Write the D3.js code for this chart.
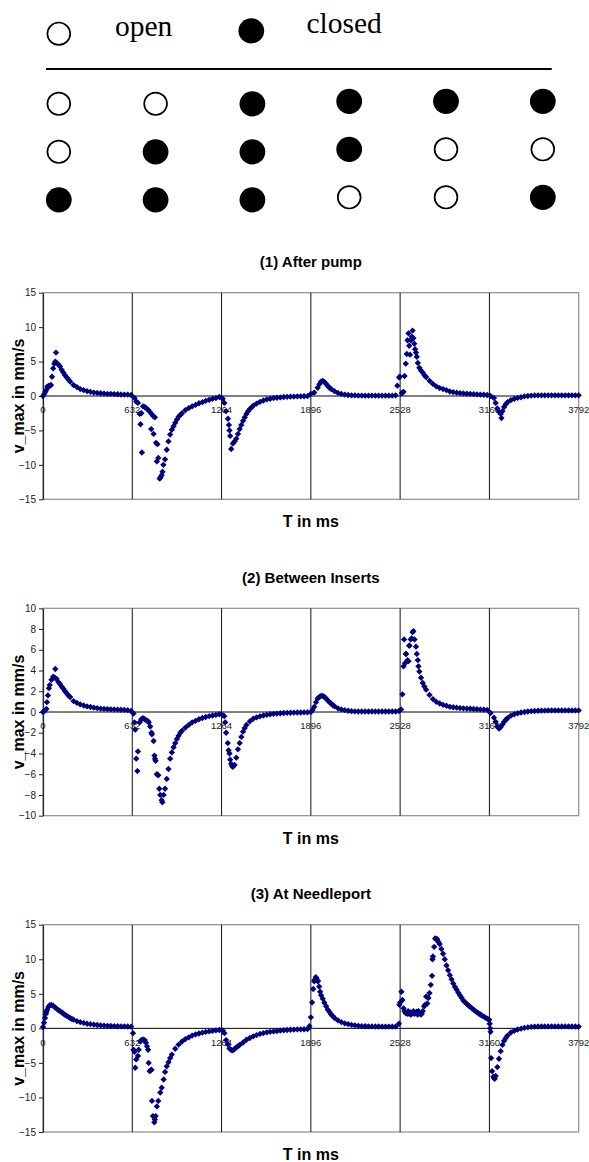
<!DOCTYPE html>
<html><head><meta charset="utf-8">
<script src="https://cdn.jsdelivr.net/npm/d3@7"></script>
<style>body{margin:0;background:#fff}svg{display:block}</style>
</head><body>
<script>
// ---------------- DATA ----------------
// valve legend
const legendItems = [{label:"open", closed:0}, {label:"closed", closed:1}];
// valve states, rows x columns (1 = closed, 0 = open)
const valveRow1 = [0,0,1,1,1,1];
const valveRow2 = [0,1,1,1,0,0];
const valveRow3 = [1,1,1,0,0,1];

const xTicks = [0,632,1264,1896,2528,3160,3792];
const yTicksA = [-15,-10,-5,0,5,10,15];
const yTicksB = [-10,-8,-6,-4,-2,0,2,4,6,8,10];
const chartTitles = ["(1) After pump","(2) Between Inserts","(3) At Needleport"];
const xTitle = "T in ms";
const yTitle = "v_max in mm/s";

// sampling times in ms
const sampleTimes = [
0,24,48,72,96,120,144,168,192,216,240,264,288,312,336,360,384,408,432,456,480,504,528,552,576,600,624,
648,672,696,720,744,768,792,816,840,864,888,912,936,960,984,1008,1032,1056,1080,1104,1128,1152,1176,1200,1224,1248,
1272,1296,1320,1344,1368,1392,1416,1440,1464,1488,1512,1536,1560,1584,1608,1632,1656,1680,1704,1728,1752,1776,1800,1824,1848,1872,
1896,1920,1944,1968,1992,2016,2040,2064,2088,2112,2136,2160,2184,2208,2232,2256,2280,2304,2328,2352,2376,2400,2424,2448,2472,2496,2520,
2544,2568,2592,2616,2640,2664,2688,2712,2736,2760,2784,2808,2832,2856,2880,2904,2928,2952,2976,3000,3024,3048,3072,3096,3120,3144,
3168,3192,3216,3240,3264,3288,3312,3336,3360,3384,3408,3432,3456,3480,3504,3528,3552,3576,3600,3624,3648,3672,3696,3720,3744,3768,3792
];

// (1) After pump
const afterPumpV = [
0.0,0.9,1.45,4.0,4.8,4.3,3.4,2.7,2.1,1.6,1.3,1.0,0.85,0.7,0.6,0.5,0.45,0.4,0.35,0.3,0.3,0.28,0.25,0.22,0.2,0.2,0.15,
-0.3,-1.0,-2.5,-1.6,-2.0,-2.6,-3.1,-9.0,-11.5,-9.2,-6.6,-4.9,-3.9,-3.0,-2.5,-2.05,-1.75,-1.5,-1.3,-1.05,-0.9,-0.7,-0.55,-0.4,-0.3,-0.15,
-0.4,-2.2,-5.0,-6.9,-6.2,-4.8,-3.6,-2.6,-1.9,-1.4,-1.1,-0.85,-0.65,-0.5,-0.4,-0.3,-0.25,-0.2,-0.15,-0.12,-0.1,-0.08,-0.06,-0.05,-0.04,-0.03,
0.3,0.5,1.2,2.1,2.05,1.45,1.0,0.7,0.45,0.3,0.2,0.15,0.1,0.08,0.06,0.05,0.05,0.05,0.05,0.05,0.05,0.05,0.05,0.05,0.05,0.1,2.7,
0.5,4.7,7.3,9.5,6.3,4.1,3.4,2.75,2.2,1.75,1.4,1.15,1.0,0.85,0.65,0.55,0.48,0.43,0.38,0.34,0.3,0.27,0.24,0.21,0.18,0.15,
0.0,-0.3,-1.8,-2.6,-1.6,-0.9,-0.6,-0.4,-0.28,-0.18,-0.05,0.0,0.05,0.08,0.1,0.1,0.1,0.1,0.1,0.1,0.1,0.1,0.1,0.1,0.1,0.1,0.1
];
const afterPumpExtra = [
[9,0.3],[17,0.6],[30,1.35],[40,1.45],[56,1.6],[64,2.8],[80,4.7],[87,5.0],[92,6.3],[108,4.6],[132,3.8],[156,3.0],[180,2.4],
[660,-0.8],[684,-2.6],[690,-4.1],[700,-8.2],[708,-1.5],[732,-1.8],[756,-2.3],[766,-4.8],[780,-2.9],[783,-5.5],[800,-6.8],[806,-9.5],[810,-7.0],[826,-12.0],[832,-11.8],[846,-11.0],[852,-10.0],[876,-7.8],[900,-5.6],[924,-4.4],[948,-3.4],[972,-2.75],
[1284,-1.0],[1309,-3.3],[1316,-4.2],[1325,-5.8],[1332,-7.7],[1356,-6.6],[1380,-5.5],[1404,-4.2],[1428,-3.1],[1452,-2.2],[1476,-1.65],
[1956,1.7],[1980,2.2],[2004,1.75],[2028,1.2],[2508,1.5],[2526,2.8],
[2540,0.4],[2552,0.6],[2559,2.9],[2575,6.1],[2580,8.1],[2587,9.1],[2598,6.0],[2603,8.1],[2611,8.6],[2622,8.4],[2628,7.6],[2634,6.8],[2646,5.7],[2653,4.8],[2676,3.7],[2700,3.0],
[3204,-1.0],[3228,-2.3],[3245,-3.2],[3252,-2.2],[3276,-1.2]
];

// (2) Between Inserts
const betweenInsertsV = [
0.0,0.3,2.6,3.4,3.2,2.7,2.25,1.8,1.45,1.05,0.88,0.73,0.63,0.54,0.48,0.42,0.37,0.32,0.3,0.28,0.26,0.25,0.23,0.22,0.2,0.18,0.1,
-1.0,-3.8,-0.7,-0.7,-0.9,-2.0,-4.5,-6.1,-8.5,-7.4,-5.5,-3.9,-3.0,-2.3,-1.8,-1.5,-1.25,-1.0,-0.85,-0.7,-0.58,-0.48,-0.4,-0.34,-0.28,-0.22,
-0.3,-2.0,-4.0,-5.3,-4.4,-3.0,-1.9,-1.25,-0.9,-0.65,-0.52,-0.42,-0.34,-0.27,-0.22,-0.18,-0.15,-0.12,-0.1,-0.08,-0.07,-0.06,-0.05,-0.05,-0.04,-0.03,
0.0,0.5,1.3,1.55,1.45,1.1,0.8,0.55,0.35,0.25,0.18,0.12,0.08,0.06,0.05,0.05,0.05,0.05,0.05,0.05,0.05,0.05,0.05,0.05,0.05,0.05,0.1,
1.7,5.6,6.4,7.7,6.3,3.9,2.8,2.15,1.65,1.25,0.98,0.82,0.69,0.6,0.5,0.46,0.42,0.38,0.35,0.33,0.31,0.29,0.27,0.25,0.23,0.2,
-0.1,-0.55,-1.4,-1.45,-0.95,-0.6,-0.35,-0.22,-0.12,-0.05,0.0,0.05,0.08,0.1,0.12,0.13,0.14,0.15,0.15,0.15,0.15,0.15,0.15,0.15,0.15,0.15,0.15
];
const betweenInsertsExtra = [
[10,0.1],[28,0.95],[35,1.6],[42,2.3],[60,3.1],[84,3.3],[87,4.15],[108,2.9],[132,2.45],[156,2.0],[180,1.6],
[641,-0.15],[653,-1.7],[660,-4.5],[668,-5.7],[684,-1.0],[708,-0.6],[732,-0.8],[748,-1.0],[759,-1.4],[771,-2.15],[783,-2.8],[789,-4.2],[797,-4.7],[806,-6.0],[823,-7.4],[830,-8.0],[845,-8.7],[854,-8.0],[876,-6.45],[900,-4.5],[924,-3.4],[948,-2.6],[972,-2.0],
[1283,-0.4],[1290,-1.0],[1308,-3.0],[1314,-3.7],[1325,-4.6],[1332,-5.0],[1338,-5.2],[1356,-5.1],[1380,-3.6],[1404,-2.4],[1428,-1.55],
[1908,0.2],[1932,0.95],[1956,1.45],[1980,1.55],[2004,1.3],[2028,0.95],[2052,0.65],
[2535,0.25],[2552,4.4],[2556,7.0],[2563,4.7],[2570,5.6],[2580,5.0],[2587,4.9],[2594,6.4],[2603,7.0],[2610,7.1],[2622,7.8],[2630,7.0],[2646,5.6],[2653,5.0],[2658,4.4],[2676,3.3],[2700,2.45],
[3204,-0.95],[3228,-1.6],[3252,-1.2],[3276,-0.75]
];

// (3) At Needleport
const atNeedleportV = [
0.2,2.4,3.35,3.25,2.85,2.5,2.15,1.8,1.5,1.25,1.05,0.9,0.78,0.67,0.6,0.53,0.48,0.43,0.4,0.37,0.34,0.32,0.3,0.29,0.28,0.27,0.26,
-3.4,-4.0,-1.7,-1.7,-3.1,-6.0,-13.2,-10.5,-8.6,-6.3,-4.9,-3.8,-2.95,-2.35,-1.9,-1.55,-1.3,-1.05,-0.88,-0.74,-0.62,-0.52,-0.44,-0.37,-0.3,-0.24,
-0.3,-1.7,-2.9,-3.2,-2.75,-2.4,-2.05,-1.65,-1.4,-1.15,-0.97,-0.8,-0.68,-0.58,-0.5,-0.45,-0.4,-0.34,-0.28,-0.24,-0.2,-0.18,-0.16,-0.15,-0.13,-0.12,
1.6,6.8,6.9,4.8,3.7,2.7,2.0,1.5,1.15,0.9,0.72,0.6,0.5,0.42,0.36,0.32,0.3,0.29,0.28,0.27,0.27,0.26,0.26,0.25,0.25,0.25,0.67,
4.1,2.2,2.1,2.2,2.3,2.2,2.5,4.6,5.1,10.4,12.9,12.2,10.8,9.1,7.7,6.5,5.6,4.75,4.0,3.55,3.1,2.7,2.3,2.0,1.7,1.4,
-0.5,-7.2,-5.6,-3.3,-1.8,-1.05,-0.6,-0.35,-0.17,-0.05,0.08,0.15,0.21,0.25,0.27,0.28,0.28,0.28,0.28,0.28,0.28,0.28,0.28,0.28,0.27,0.27,0.26
];
const atNeedleportExtra = [
[7,0.8],[14,1.5],[21,2.1],[30,2.7],[38,3.1],[60,3.4],[84,3.05],[108,2.65],[132,2.3],[156,1.95],[180,1.65],[204,1.38],
[637,-0.7],[641,-3.1],[653,-5.7],[660,-4.5],[677,-3.1],[689,-1.9],[708,-1.6],[729,-2.1],[736,-2.6],[748,-5.0],[755,-6.2],[764,-6.0],[771,-10.5],[778,-12.7],[788,-13.6],[797,-12.7],[806,-11.3],[830,-9.3],[854,-7.4],[876,-5.5],[900,-4.3],
[1284,-0.7],[1308,-2.3],[1332,-3.15],[1356,-3.0],[1380,-2.6],
[1886,0.3],[1905,3.75],[1913,5.7],[1922,7.0],[1931,7.4],[1936,7.25],[1946,6.8],[1955,6.05],[1962,5.3],[1980,4.3],[2004,3.2],[2028,2.35],[2052,1.75],
[2523,3.4],[2528,3.75],[2537,5.3],[2552,2.9],[2559,2.45],[2578,2.1],[2585,2.5],[2599,2.3],[2604,2.0],[2610,2.1],[2622,2.5],[2630,2.1],[2646,2.4],[2652,2.0],[2658,2.5],[2675,2.0],[2681,2.1],[2698,3.2],[2705,3.4],[2720,3.6],[2728,4.4],[2745,6.3],[2754,7.6],[2757,10.0],[2769,11.8],[2776,13.0],[2790,12.9],[2799,12.5],[2820,11.5],[2844,10.0],[2868,8.4],[2892,7.1],[2916,6.0],[2940,5.15],[2964,4.4],[2988,3.75],[3012,3.3],[3036,2.9],[3060,2.5],[3084,2.15],[3108,1.85],[3132,1.55],[3155,1.25],
[3158,1.25],[3162,0.67],[3165,0.0],[3172,-4.3],[3179,-6.2],[3188,-7.0],[3198,-7.3],[3204,-6.9],[3228,-4.4],[3252,-2.4],[3276,-1.4]
];

// ---------------- DRAWING ----------------
const W = 589, H = 1162;
const svg = d3.select("body").append("svg").attr("width", W).attr("height", H)
  .style("font-family", "'Liberation Sans', Arial, sans-serif");

// ---- valve diagram ----
const serif = "'Liberation Serif', 'Times New Roman', serif";
const diagram = svg.append("g");
const legendPos = [{cx:58.8, cy:33.7, tx:115, ty:36}, {cx:251.3, cy:30.8, tx:306.5, ty:33.3}];
legendItems.forEach((d, i) => {
  const p = legendPos[i];
  drawValve(diagram, p.cx, p.cy, d.closed);
  diagram.append("text").attr("x", p.tx).attr("y", p.ty).attr("font-family", serif)
    .attr("font-size", 29.5).attr("fill", "#000").text(d.label);
});
diagram.append("line").attr("x1", 46).attr("x2", 551.7).attr("y1", 69).attr("y2", 69)
  .attr("stroke", "#000").attr("stroke-width", 2);

const valveRows = [valveRow1, valveRow2, valveRow3];
const colScale = d3.scalePoint().domain(d3.range(valveRow1.length)).range([58.8, 542.8]);
const rowScale = d3.scalePoint().domain(d3.range(valveRows.length)).range([103.8, 199.8]);
valveRows.forEach((row, r) => {
  row.forEach((st, c) => drawValve(diagram, colScale(c), rowScale(r) - (c >= 3 ? 2.5 : 0), st));
});

function drawValve(g, cx, cy, closed) {
  if (closed) {
    g.append("ellipse").attr("cx", cx).attr("cy", cy).attr("rx", 12.9).attr("ry", 12.6).attr("fill", "#000");
  } else {
    g.append("ellipse").attr("cx", cx).attr("cy", cy).attr("rx", 11.4).attr("ry", 11.2)
      .attr("fill", "#fff").attr("stroke", "#000").attr("stroke-width", 1.7);
  }
}

// ---- charts ----
const charts = [
  {title: chartTitles[0], y0: 292.7, y1: 499.3, domain: [-15, 15], ticks: yTicksA, values: afterPumpV, extra: afterPumpExtra},
  {title: chartTitles[1], y0: 608.3, y1: 815.7, domain: [-10, 10], ticks: yTicksB, values: betweenInsertsV, extra: betweenInsertsExtra},
  {title: chartTitles[2], y0: 924.7, y1: 1132.0, domain: [-15, 15], ticks: yTicksA, values: atNeedleportV, extra: atNeedleportExtra}
];
const plotLeft = 43, plotRight = 578.7;
const marker = d3.symbol().type(d3.symbolSquare).size(20)();

charts.forEach(cfg => {
  const g = svg.append("g");
  const x = d3.scaleLinear().domain([0, 3792]).range([plotLeft, plotRight]);
  const y = d3.scaleLinear().domain(cfg.domain).range([cfg.y1, cfg.y0]);

  // plot border
  g.append("rect").attr("x", plotLeft).attr("y", cfg.y0).attr("width", plotRight - plotLeft).attr("height", cfg.y1 - cfg.y0)
    .attr("fill", "none").attr("stroke", "#8c8c8c").attr("stroke-width", 1.2);

  // vertical gridlines
  g.selectAll(".grid").data(xTicks.slice(1, -1)).join("line")
    .attr("x1", d => x(d)).attr("x2", d => x(d)).attr("y1", cfg.y0).attr("y2", cfg.y1)
    .attr("stroke", "#111").attr("stroke-width", 1);

  // y axis
  const ax = g.append("g").attr("transform", `translate(${plotLeft},0)`)
    .call(d3.axisLeft(y).tickValues(cfg.ticks).tickSize(4).tickSizeOuter(0).tickPadding(3).tickFormat(d3.format("d")));
  ax.select(".domain").attr("stroke", "#222").attr("stroke-width", 1.2);
  ax.selectAll(".tick line").attr("stroke", "#222");
  ax.selectAll(".tick text").attr("font-size", 10).attr("fill", "#222")
    .attr("font-family", "'Liberation Sans', Arial, sans-serif");

  // zero line
  g.append("line").attr("x1", plotLeft).attr("x2", plotRight).attr("y1", y(0)).attr("y2", y(0))
    .attr("stroke", "#000").attr("stroke-width", 1);

  // x tick labels on the zero line
  g.selectAll(".xl").data(xTicks).join("text")
    .attr("x", d => x(d)).attr("y", y(0) + 17.3).attr("text-anchor", "middle")
    .attr("font-size", 9.5).attr("fill", "#222").text(d => d);

  // points
  const pts = sampleTimes.map((t, i) => [t, cfg.values[i]]).concat(cfg.extra);
  g.selectAll(".pt").data(pts).join("path")
    .attr("d", marker)
    .attr("transform", d => `translate(${x(d[0])},${y(d[1])}) rotate(45)`)
    .attr("fill", "#00007f");

  // titles
  const cx = (plotLeft + plotRight) / 2;
  g.append("text").attr("x", cx).attr("y", cfg.y0 - 25.4).attr("text-anchor", "middle")
    .attr("font-weight", "bold").attr("font-size", 15).attr("fill", "#000").text(cfg.title);
  g.append("text").attr("x", cx).attr("y", cfg.y1 + 27.8).attr("text-anchor", "middle")
    .attr("font-weight", "bold").attr("font-size", 16).attr("fill", "#000").text(xTitle);
  g.append("text").attr("transform", `translate(23.5,${(cfg.y0 + cfg.y1) / 2}) rotate(-90)`)
    .attr("text-anchor", "middle").attr("font-weight", "bold").attr("font-size", 16).attr("fill", "#000").text(yTitle);
});
</script>
</body></html>
